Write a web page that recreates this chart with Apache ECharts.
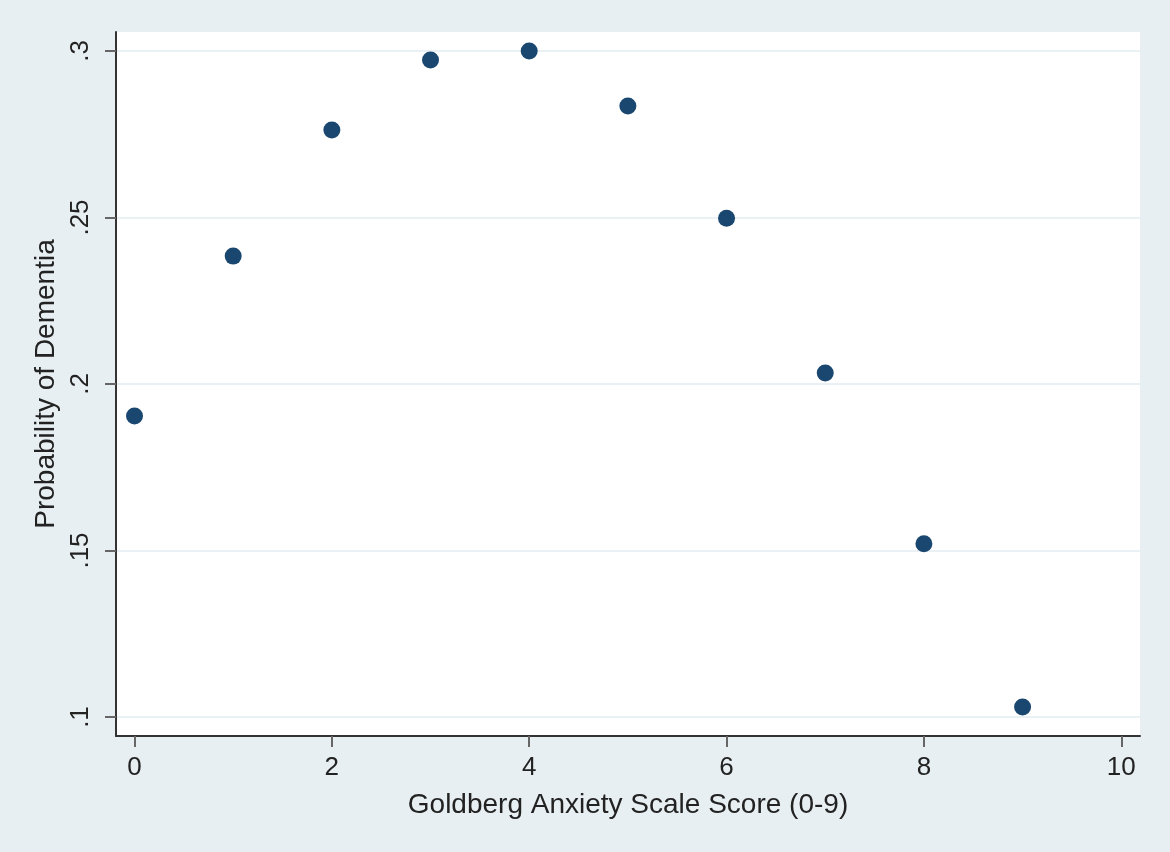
<!DOCTYPE html>
<html>
<head>
<meta charset="utf-8">
<script src="https://cdn.jsdelivr.net/npm/echarts@6/dist/echarts.min.js"></script>
<style>
html,body{margin:0;padding:0;background:#e8eff2;}
#chart{width:1170px;height:852px;}
</style>
</head>
<body>
<div id="chart"></div>
<script>
// Data
var anxietyScores = [0, 1, 2, 3, 4, 5, 6, 7, 8, 9];
var dementiaProb = [0.1904, 0.2384, 0.2763, 0.2973, 0.3000, 0.2835, 0.2498, 0.2033, 0.1520, 0.1030];
var xTickValues = [0, 2, 4, 6, 8, 10];
var xTickLabels = ['0', '2', '4', '6', '8', '10'];
var yTickValues = [0.1, 0.15, 0.2, 0.25, 0.3];
var yTickLabels = ['.1', '.15', '.2', '.25', '.3'];
var xTitle = 'Goldberg Anxiety Scale Score (0-9)';
var yTitle = 'Probability of Dementia';

var FONT = '"Liberation Sans", Arial, Helvetica, sans-serif';
var chart = echarts.init(document.getElementById('chart'), null, {renderer: 'canvas'});

function labelFor(values, labels) {
  return function (v) {
    for (var i = 0; i < values.length; i++) {
      if (Math.abs(values[i] - v) < 1e-9) return labels[i];
    }
    return '';
  };
}

var points = anxietyScores.map(function (x, i) { return [x, dementiaProb[i]]; });

chart.setOption({
  backgroundColor: '#e8eff2',
  animation: false,
  grid: {
    left: 116, right: 30, top: 32, bottom: 116,
    show: true, backgroundColor: '#ffffff', borderWidth: 0
  },
  xAxis: {
    type: 'value',
    min: -0.1875, max: 10.19,
    name: xTitle,
    nameLocation: 'middle',
    nameGap: 55,
    nameTextStyle: {fontFamily: FONT, fontSize: 28, color: '#222'},
    axisLine: {show: true, onZero: false, lineStyle: {color: '#333', width: 2}},
    axisTick: {show: true, length: 11, lineStyle: {color: '#666', width: 2}, customValues: xTickValues},
    axisLabel: {
      fontFamily: FONT, fontSize: 26, color: '#222', margin: 19,
      customValues: xTickValues,
      formatter: labelFor(xTickValues, xTickLabels)
    },
    splitLine: {show: false}
  },
  yAxis: {
    type: 'value',
    min: 0.0943, max: 0.3057,
    name: yTitle,
    nameLocation: 'middle',
    nameGap: 54,
    nameTextStyle: {fontFamily: FONT, fontSize: 28, color: '#222'},
    axisLine: {show: true, onZero: false, lineStyle: {color: '#333', width: 2}},
    axisTick: {show: true, length: 11, lineStyle: {color: '#666', width: 2}, customValues: yTickValues},
    axisLabel: {
      fontFamily: FONT, fontSize: 26, color: '#222', margin: 22, rotate: 90,
      customValues: yTickValues,
      formatter: labelFor(yTickValues, yTickLabels)
    },
    splitLine: {show: true, lineStyle: {color: '#eaf1f4', width: 2}}
  },
  series: [{
    type: 'scatter',
    data: points,
    symbol: 'circle',
    symbolSize: 17,
    itemStyle: {color: '#1a476f', opacity: 1},
    markLine: {
      silent: true,
      symbol: 'none',
      label: {show: false},
      z: -1,
      lineStyle: {color: '#eaf1f4', width: 2, type: 'solid'},
      data: yTickValues.map(function (v) { return {yAxis: v}; })
    }
  }]
});
</script>
</body>
</html>
